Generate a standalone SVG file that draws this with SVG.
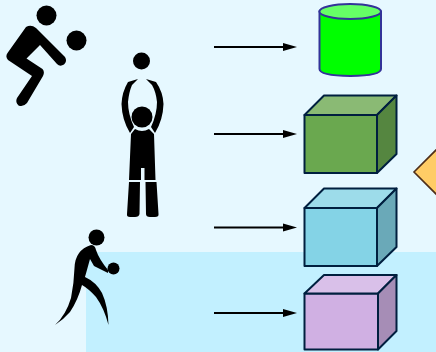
<svg xmlns="http://www.w3.org/2000/svg" width="436" height="352" viewBox="0 0 436 352">
<defs>
<marker id="arr" markerWidth="14" markerHeight="9" refX="6" refY="4.500" orient="auto" markerUnits="userSpaceOnUse"><path d="M0 0.500L14 4.500L0 8.500Z" fill="#000"/></marker>
</defs>
<style>
.conn{stroke:#000;stroke-width:2;fill:none;marker-end:url(#arr)}
.edge{stroke:#001f3f;stroke-width:2;stroke-linejoin:round}
.fig{fill:#000;stroke:none}
</style>
<rect width="436" height="352" fill="#e6f8ff"/>
<rect x="86" y="252" width="350" height="100" fill="#c2f0ff"/>
<g id="player-spike">
<circle class="fig" cx="46.500" cy="15.500" r="10"/>
<circle class="fig" cx="76.500" cy="40.500" r="10"/>
<path class="fig" d="M26 27Q31 24 36 28L65 57Q67.500 61 64 64.500Q60 67 57 64L40 45L26.500 58.500L42.500 69Q45 72 43 76L27 103Q23 107.500 18.500 105.500Q15 102 17 98L32 76L8 60Q5 56.500 7.500 53Z"/>
</g>
<g id="player-set">
<circle class="fig" cx="141.500" cy="61" r="8.500"/>
<path class="fig" d="M138 79L128 82Q122 92 121.500 104Q122 120 130 133L134 127Q128 114 128 102Q129 92 132 85Z"/>
<path class="fig" d="M146 79L156 82Q163 92 163.500 104Q163 120 155 133L151 127Q157 114 157 102Q156 92 152 85Z"/>
<path class="fig" d="M131 134L135 129Q142 133 149 129L154 134L155.500 180H144.500V168H141V180H129Z"/>
<circle class="fig" cx="142" cy="117" r="10.500"/>
<path class="fig" d="M129 182H140L139.500 214Q139 217 135 217H130Q126.500 217 127 214Z"/>
<path class="fig" d="M145.500 182H156.500L158.500 214Q159 217 155 217H150Q146 217 146 214Z"/>
</g>
<g id="player-dig">
<circle class="fig" cx="96.500" cy="237.500" r="8"/>
<circle class="fig" cx="113.500" cy="268.500" r="6"/>
<path class="fig" d="M91 245Q95 245 96 250Q99 259 108 270L108 273L94 266L90 259L85 277Q96 282 102 293Q108 306 108.500 325Q104 308 96 297Q89 289 82 285Q78 300 70 312Q63 320 55 325Q66 315 71 298Q74 283 74.500 268Q75 250 91 245Z"/>
</g>
<g id="connectors">
<line class="conn" x1="214" y1="47" x2="289" y2="47"/>
<line class="conn" x1="214" y1="134" x2="289" y2="134"/>
<line class="conn" x1="214" y1="227.500" x2="289" y2="227.500"/>
<line class="conn" x1="214" y1="313" x2="289" y2="313"/>
</g>
<g id="cylinder">
<path d="M319.500 11.500V69Q319.500 75.500 350.500 76Q381 75.500 381 69V11.500Z" fill="#00ff00" stroke="#333399" stroke-width="2"/>
<ellipse cx="350.200" cy="11.500" rx="30.800" ry="7.500" fill="#66ff66" stroke="#333399" stroke-width="2"/>
</g>
<g id="cube-green">
<path class="edge" d="M304.500 115H377V173H304.500Z" fill="#6aa84f"/>
<path class="edge" d="M304.500 115L324 95.500H396.500L377 115Z" fill="#8aba74"/>
<path class="edge" d="M377 115L396.500 95.500V154L377 173Z" fill="#558640"/>
</g>
<g id="cube-blue">
<path class="edge" d="M304.500 208H377V266H304.500Z" fill="#84d3e6"/>
<path class="edge" d="M304.500 208L324 188.500H396.500L377 208Z" fill="#9ddcea"/>
<path class="edge" d="M377 208L396.500 188.500V247L377 266Z" fill="#6aa9b8"/>
</g>
<g id="cube-purple">
<path class="edge" d="M304.500 293.500H378V349.500H304.500Z" fill="#d0b0e3"/>
<path class="edge" d="M304.500 293.500L324 275H396.500L378 293.500Z" fill="#d9c0e9"/>
<path class="edge" d="M378 293.500L396.500 275V331L378 349.500Z" fill="#a68db6"/>
</g>
<g id="diamond">
<path d="M440 146L414 172L440 198Z" fill="#ffcc66" stroke="#4d2e1a" stroke-width="1.600"/>
</g>
</svg>
